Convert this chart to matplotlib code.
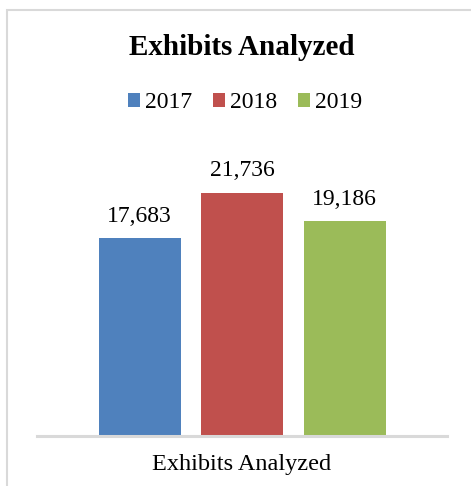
import matplotlib.pyplot as plt
from matplotlib.patches import Rectangle

years = ["2017", "2018", "2019"]
exhibits = [17683, 21736, 19186]
colors = ["#4f81bd", "#c0504d", "#9bbb59"]
category = "Exhibits Analyzed"

plt.rcParams["font.family"] = ["Liberation Serif", "DejaVu Serif"]

W, H = 471, 486
fig = plt.figure(figsize=(W / 100, H / 100), dpi=100)

# chart frame (runs off the right and bottom edges)
fig.patches.append(Rectangle((7 / W, -0.1), 1.2, 1 - 10 / H + 0.1,
                             transform=fig.transFigure, fill=False,
                             edgecolor="#d9d9d9", linewidth=1.5))

ax = fig.add_axes([37 / W, 1 - 436 / H, 410 / W, 280 / H])
bars = []
for i, (yr, val, c) in enumerate(zip(years, exhibits, colors)):
    b = ax.bar(i - 1, val, width=0.8, color=c, label=yr)
    ax.bar_label(b, labels=[f"{val:,}"], padding=8, fontsize=17)
    bars.append(b)

ax.set_xlim(-2, 2)
ax.set_ylim(0, 25000)
for s in ["top", "left", "right"]:
    ax.spines[s].set_visible(False)
ax.spines["bottom"].set_color("#d9d9d9")
ax.spines["bottom"].set_linewidth(2.2)
ax.set_xticks([])
ax.set_yticks([])

fig.text(242 / W, 1 - 47 / H, category, ha="center", va="center",
         fontsize=21, fontweight="bold")
fig.text(242 / W, 1 - 464 / H, category, ha="center", va="center",
         fontsize=17.5)

fig.legend(handles=[b.patches[0] for b in bars], labels=years,
           loc="center", bbox_to_anchor=(245 / W, 1 - 103 / H), ncol=3,
           frameon=False, fontsize=17, handlelength=0.5, handleheight=0.5,
           handletextpad=0.2, columnspacing=0.9)

fig.savefig("out.png", dpi=100)
